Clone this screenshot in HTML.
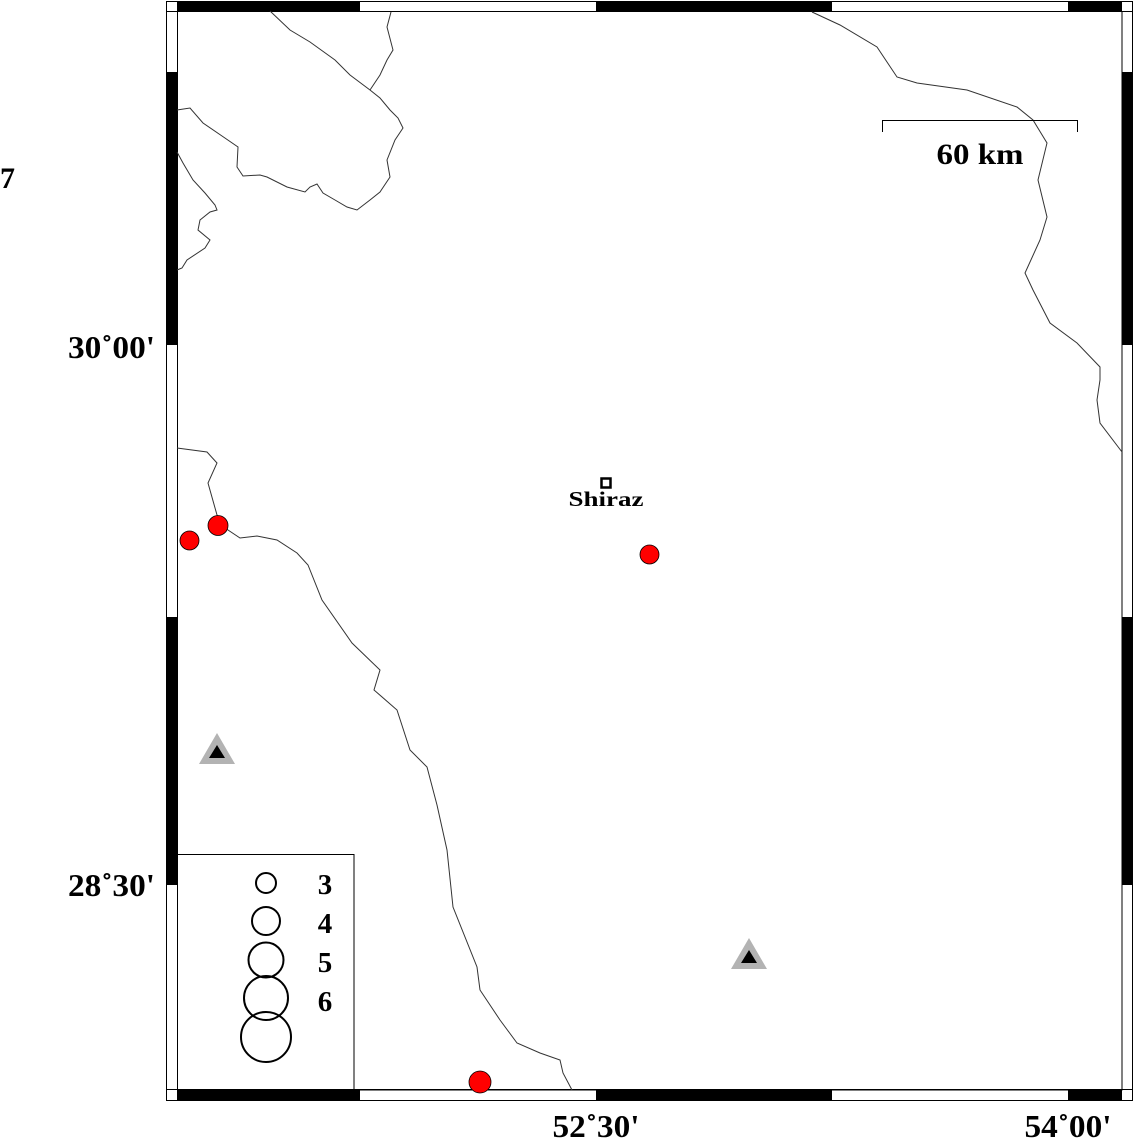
<!DOCTYPE html>
<html><head><meta charset="utf-8"><style>
html,body{margin:0;padding:0;background:#fff;}
svg{display:block;}
text{font-family:"Liberation Serif",serif;font-weight:bold;fill:#000;}
</style></head><body>
<svg width="1134" height="1139" viewBox="0 0 1134 1139" xmlns="http://www.w3.org/2000/svg">
<rect x="0" y="0" width="1134" height="1139" fill="#fff"/>
<rect x="166.5" y="1.5" width="966" height="1099" fill="#fff" stroke="#000" stroke-width="1"/>
<rect x="177" y="1" width="183" height="10" fill="#000"/>
<rect x="596" y="1" width="236" height="10" fill="#000"/>
<rect x="1068" y="1" width="54" height="10" fill="#000"/>
<rect x="177" y="1090" width="183" height="11" fill="#000"/>
<rect x="596" y="1090" width="236" height="11" fill="#000"/>
<rect x="1068" y="1090" width="54" height="11" fill="#000"/>
<rect x="166" y="72" width="11" height="273" fill="#000"/>
<rect x="166" y="617" width="11" height="268" fill="#000"/>
<rect x="1122" y="72" width="10" height="273" fill="#000"/>
<rect x="1122" y="617" width="10" height="268" fill="#000"/>
<rect x="177.5" y="11.5" width="944.5" height="1078.5" fill="#fff" stroke="#000" stroke-width="1"/>
<line x1="166" y1="11.5" x2="1132" y2="11.5" stroke="#000" stroke-width="1"/>
<line x1="166" y1="1089.5" x2="1132" y2="1089.5" stroke="#000" stroke-width="1"/>

<g fill="none" stroke="#333" stroke-width="1">
<polyline points="270,11 290,30 310,42 335,60 350,75 370,90 380,98 390,110 398,118 403,128 395,140 387,160 390,177 380,192 370,200 357,210 347,207 335,200 323,193 317,184 310,187 305,192 287,187 267,177 260,175 243,176 237,167 238,147 222,136 203,123 190,108 177,110"/>
<polyline points="370,90 380,75 387,60 393,50 387,27 391,12"/>
<polyline points="177,152 183,163 193,180 205,193 215,205 217,210 210,212 200,220 198,230 210,240 205,248 187,260 182,268 177,270"/>
<polyline points="812,12 840,25 877,47 897,77 917,83 967,90 1017,107 1033,120 1047,143 1038,180 1047,217 1040,240 1025,273 1033,290 1050,323 1077,343 1100,367 1100,380 1097,400 1100,423 1122,452"/>
<polyline points="177,448 207,452 217,463 208,483 217,515 222,525 228,530 240,538 257,536 277,540 297,553 308,565 322,600 352,643 380,670 374,690 397,710 410,750 427,767 437,805 447,850 453,907 477,967 480,990 500,1020 517,1043 540,1053 560,1060 563,1073 572,1090"/>
</g>

<polyline points="882.5,132 882.5,120.5 1077.5,120.5 1077.5,132" fill="none" stroke="#000" stroke-width="1"/>
<text x="980" y="164" font-size="30" text-anchor="middle" textLength="87" lengthAdjust="spacingAndGlyphs">60 km</text>

<rect x="601.5" y="478.5" width="9" height="9" fill="#fff" stroke="#000" stroke-width="2.5"/>
<text x="606" y="506" font-size="21" text-anchor="middle" textLength="75" lengthAdjust="spacingAndGlyphs">Shiraz</text>

<g fill="#ff0000" stroke="#000" stroke-width="0.8">
<circle cx="189.5" cy="540.5" r="9.5"/>
<circle cx="218" cy="525.5" r="10"/>
<circle cx="649.5" cy="554.5" r="9.5"/>
<circle cx="480" cy="1082" r="11"/>
</g>

<polygon points="217,733 235,764 199,764" fill="#b3b3b3"/>
<polygon points="217,745 225,758 209,758" fill="#000"/>
<polygon points="749,938 767,969 731,969" fill="#b3b3b3"/>
<polygon points="749,950 757,963 741,963" fill="#000"/>

<rect x="177.5" y="854.5" width="176.5" height="235" fill="#fff" stroke="#000" stroke-width="1"/>
<g fill="none" stroke="#000" stroke-width="2">
<circle cx="266" cy="883" r="10"/>
<circle cx="266" cy="921" r="14"/>
<circle cx="266" cy="960" r="17.5"/>
<circle cx="266" cy="998" r="22"/>
<circle cx="266" cy="1037" r="25"/>
</g>
<text x="325" y="894" font-size="29" text-anchor="middle">3</text>
<text x="325" y="933" font-size="29" text-anchor="middle">4</text>
<text x="325" y="972" font-size="29" text-anchor="middle">5</text>
<text x="325" y="1011" font-size="29" text-anchor="middle">6</text>

<text x="0" y="188" font-size="30">7</text>
<text x="155" y="358" font-size="32" text-anchor="end" textLength="87" lengthAdjust="spacingAndGlyphs">30˚00'</text>
<text x="155" y="896" font-size="32" text-anchor="end" textLength="87" lengthAdjust="spacingAndGlyphs">28˚30'</text>
<text x="596" y="1137" font-size="32" text-anchor="middle" textLength="87" lengthAdjust="spacingAndGlyphs">52˚30'</text>
<text x="1068" y="1137" font-size="32" text-anchor="middle" textLength="87" lengthAdjust="spacingAndGlyphs">54˚00'</text>
</svg>
</body></html>
